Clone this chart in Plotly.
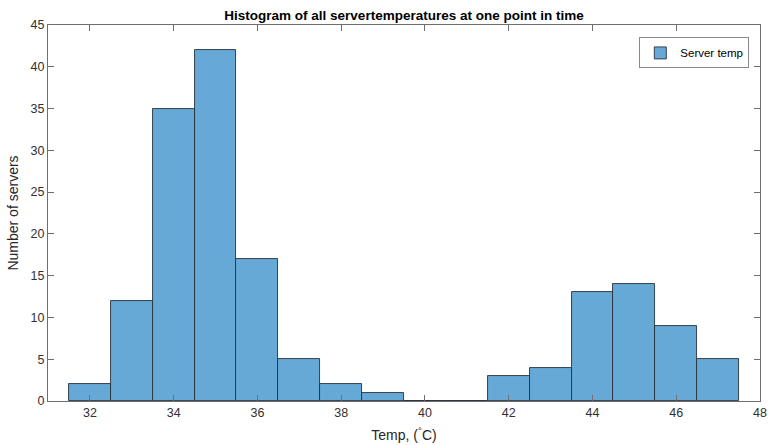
import plotly.graph_objects as go

bin_centers = [32, 33, 34, 35, 36, 37, 38, 39, 40, 41, 42, 43, 44, 45, 46, 47]
counts = [2, 12, 35, 42, 17, 5, 2, 1, 0, 0, 3, 4, 13, 14, 9, 5]
x_ticks = [32, 34, 36, 38, 40, 42, 44, 46, 48]
y_ticks = [0, 5, 10, 15, 20, 25, 30, 35, 40, 45]

FONT = "Liberation Sans, Arial, sans-serif"
AX = "#6e6e6e"

fig = go.Figure()
fig.add_trace(go.Bar(
    x=bin_centers, y=counts, width=1,
    name="Server temp",
    marker=dict(color="#66a9d6", line=dict(color="#28323c", width=0.9)),
    showlegend=True,
))

fig.update_layout(
    width=769, height=445,
    margin=dict(l=48, r=9, t=25, b=44, autoexpand=False),
    paper_bgcolor="white", plot_bgcolor="white",
    font=dict(family=FONT, size=12, color="#262626"),
    title=dict(text="<b>Histogram of all servertemperatures at one point in time</b>",
               x=0.5, xref="paper", xanchor="center",
               y=1, yref="container", yanchor="top", pad=dict(t=11),
               font=dict(size=13.5, color="#000000", family=FONT)),
    bargap=0,
    legend=dict(x=0.985, y=0.967, xanchor="right", yanchor="top",
                bordercolor="#8a8a8a", borderwidth=1, bgcolor="white",
                itemwidth=30, tracegroupgap=0,
                font=dict(size=11.5, color="#000000")),
    xaxis=dict(range=[31, 48], tickvals=x_ticks, ticks="inside", ticklen=6,
               tickcolor=AX, showline=True, linecolor=AX, linewidth=1,
               mirror="ticks", showgrid=False, zeroline=False, automargin=False,
               tickfont=dict(size=12.5, color="#303030"),
               title=dict(text="Temp, (<sup>°</sup>C)", standoff=11,
                          font=dict(size=14, color="#262626"))),
    yaxis=dict(range=[0, 45], tickvals=y_ticks, ticks="inside", ticklen=6,
               tickcolor=AX, showline=True, linecolor=AX, linewidth=1,
               mirror="ticks", showgrid=False, zeroline=False, automargin=False,
               tickfont=dict(size=12.5, color="#303030"),
               title=dict(text="Number of servers", standoff=8,
                          font=dict(size=14, color="#262626"))),
)

fig.write_html("out.html", config={"displayModeBar": False},
               post_script="document.body.style.margin='0';")
